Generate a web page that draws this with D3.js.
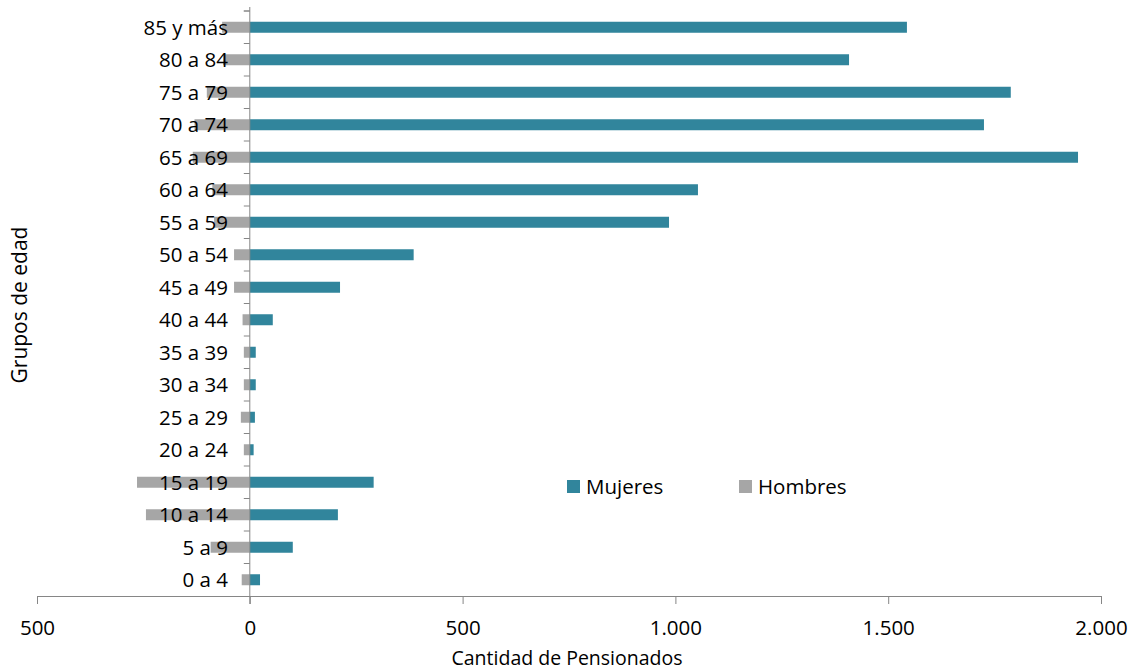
<!DOCTYPE html>
<html><head><meta charset="utf-8">
<script src="https://cdn.jsdelivr.net/npm/d3@7"></script>
<style>body{margin:0;background:#fff}svg{display:block}text{font-family:"Open Sans","Noto Sans",sans-serif;fill:#000}</style>
</head><body><svg id="c" width="1132" height="670"></svg>
<script>
const categories = ["0 a 4","5 a 9","10 a 14","15 a 19","20 a 24","25 a 29","30 a 34","35 a 39","40 a 44","45 a 49","50 a 54","55 a 59","60 a 64","65 a 69","70 a 74","75 a 79","80 a 84","85 y más"];
const mujeres = [24,101,207,291,9,12,14,14,54,212,385,985,1053,1946,1725,1788,1408,1544];
const hombres = [-19,-92,-244,-265,-14,-21,-14,-14,-17,-37,-37,-84,-88,-134,-130,-101,-63,-65];
const xTicks = [-500,0,500,1000,1500,2000];
const seriesNames = ["Mujeres","Hombres"];
const colors = {Mujeres:"#31859C", Hombres:"#A6A6A6"};

const svg = d3.select("#c");
const x = d3.scaleLinear().domain([-500,2000]).range([37,1101]);
const y = d3.scaleBand().domain(categories).range([596,11]);
const barH = 11;
const fmt = v => d3.format(",")(Math.abs(v)).replace(/,/g,".");

// bars
svg.append("g").selectAll("rect").data(hombres).join("rect")
  .attr("x",d=>x(d)).attr("width",d=>x(0)-x(d))
  .attr("y",(d,i)=>y(categories[i])+y.bandwidth()/2-barH/2).attr("height",barH)
  .attr("fill",colors.Hombres);
svg.append("g").selectAll("rect").data(mujeres).join("rect")
  .attr("x",x(0)).attr("width",d=>x(d)-x(0))
  .attr("y",(d,i)=>y(categories[i])+y.bandwidth()/2-barH/2).attr("height",barH)
  .attr("fill",colors.Mujeres);

// x axis
const xa = svg.append("g").attr("transform","translate(0,596)")
  .call(d3.axisBottom(x).tickValues(xTicks).tickSize(8).tickSizeOuter(0).tickFormat(fmt));
xa.select(".domain").attr("stroke","#868686");
xa.selectAll(".tick line").attr("stroke","#868686");
xa.selectAll("text").attr("font-size",20.5).attr("dy",0).attr("y",39);

// y axis at zero
const yaG = svg.append("g");
yaG.append("line").attr("x1",x(0)).attr("x2",x(0)).attr("y1",7).attr("y2",604).attr("stroke","#868686");
const bounds = categories.map(c=>y(c)).concat([y.range()[1]]);
yaG.selectAll("line.t").data(bounds).join("line").attr("class","t")
  .attr("x1",x(0)-6).attr("x2",x(0)).attr("y1",d=>d).attr("y2",d=>d).attr("stroke","#868686");
svg.append("g").selectAll("text").data(categories).join("text")
  .attr("x",228).attr("y",d=>y(d)+y.bandwidth()/2).attr("dy","0.36em")
  .attr("text-anchor","end").attr("font-size",20.5).text(d=>d);

// titles
svg.append("text").attr("x",567).attr("y",665).attr("text-anchor","middle").attr("font-size",19.5).text("Cantidad de Pensionados");
svg.append("text").attr("transform","translate(27,305) rotate(-90)").attr("text-anchor","middle").attr("font-size",21).text("Grupos de edad");

// legend
const lg = svg.append("g");
const lx = [567,739];
seriesNames.forEach((s,i)=>{
  lg.append("rect").attr("x",lx[i]).attr("y",480).attr("width",13).attr("height",13).attr("fill",colors[s]);
  lg.append("text").attr("x",lx[i]+19).attr("y",487).attr("dy","0.36em").attr("font-size",20.5).text(s);
});
</script></body></html>
